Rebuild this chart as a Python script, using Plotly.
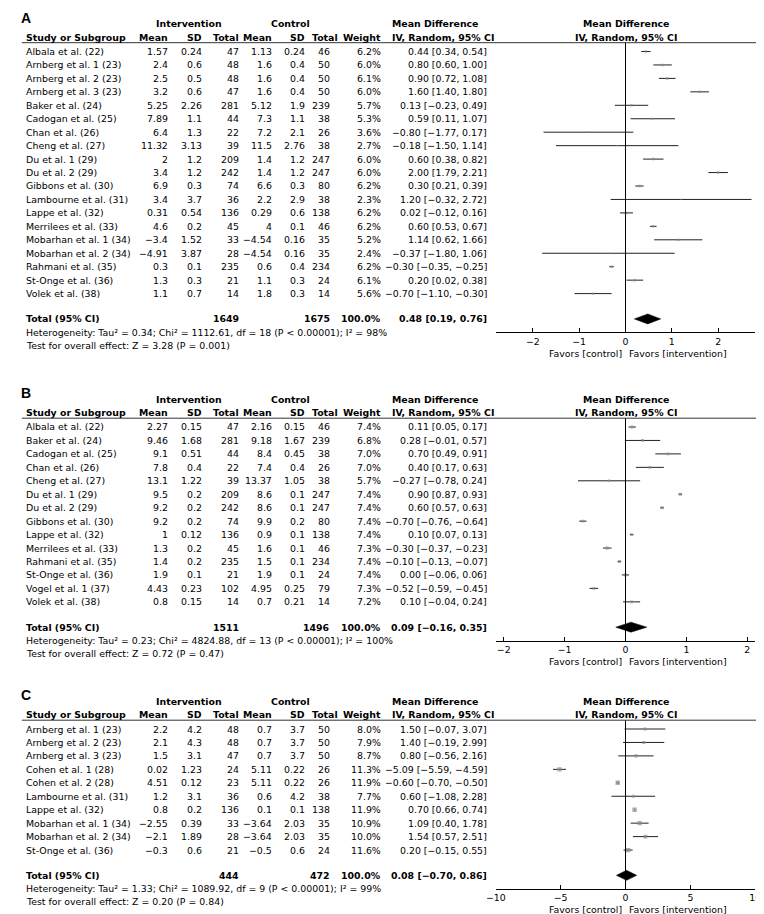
import plotly.graph_objects as go

W, H = 764, 914
FONT = "DejaVu Sans"
FS = 9.4
P = 13.45  # row pitch in px

# ---------------- Panel A data ----------------
A_studies = ["Albala et al. (22)", "Arnberg et al. 1 (23)", "Arnberg et al. 2 (23)", "Arnberg et al. 3 (23)",
             "Baker et al. (24)", "Cadogan et al. (25)", "Chan et al. (26)", "Cheng et al. (27)",
             "Du et al. 1 (29)", "Du et al. 2 (29)", "Gibbons et al. (30)", "Lambourne et al. (31)",
             "Lappe et al. (32)", "Merrilees et al. (33)", "Mobarhan et al. 1 (34)", "Mobarhan et al. 2 (34)",
             "Rahmani et al. (35)", "St-Onge et al. (36)", "Volek et al. (38)"]
A_int_mean = [1.57, 2.4, 2.5, 3.2, 5.25, 7.89, 6.4, 11.32, 2, 3.4, 6.9, 3.4, 0.31, 4.6, -3.4, -4.91, 0.3, 1.3, 1.1]
A_int_sd = [0.24, 0.6, 0.5, 0.6, 2.26, 1.1, 1.3, 3.13, 1.2, 1.2, 0.3, 3.7, 0.54, 0.2, 1.52, 3.87, 0.1, 0.3, 0.7]
A_int_n = [47, 48, 48, 47, 281, 44, 22, 39, 209, 242, 74, 36, 136, 45, 33, 28, 235, 21, 14]
A_ctl_mean = [1.13, 1.6, 1.6, 1.6, 5.12, 7.3, 7.2, 11.5, 1.4, 1.4, 6.6, 2.2, 0.29, 4, -4.54, -4.54, 0.6, 1.1, 1.8]
A_ctl_sd = [0.24, 0.4, 0.4, 0.4, 1.9, 1.1, 2.1, 2.76, 1.2, 1.2, 0.3, 2.9, 0.6, 0.1, 0.16, 0.16, 0.4, 0.3, 0.3]
A_ctl_n = [46, 50, 50, 50, 239, 38, 26, 38, 247, 247, 80, 38, 138, 46, 35, 35, 234, 24, 14]
A_weight = [6.2, 6.0, 6.1, 6.0, 5.7, 5.3, 3.6, 2.7, 6.0, 6.0, 6.2, 2.3, 6.2, 6.2, 5.2, 2.4, 6.2, 6.1, 5.6]
A_md = [0.44, 0.80, 0.90, 1.60, 0.13, 0.59, -0.80, -0.18, 0.60, 2.00, 0.30, 1.20, 0.02, 0.60, 1.14, -0.37, -0.30, 0.20, -0.70]
A_lo = [0.34, 0.60, 0.72, 1.40, -0.23, 0.11, -1.77, -1.50, 0.38, 1.79, 0.21, -0.32, -0.12, 0.53, 0.62, -1.80, -0.35, 0.02, -1.10]
A_hi = [0.54, 1.00, 1.08, 1.80, 0.49, 1.07, 0.17, 1.14, 0.82, 2.21, 0.39, 2.72, 0.16, 0.67, 1.66, 1.06, -0.25, 0.38, -0.30]
A_total_n = [1649, 1675]
A_total_md = [0.48, 0.19, 0.76]
A_het = [0.34, 1112.61, 18, 98]   # Tau2, Chi2, df, I2
A_test = [3.28, 0.001]            # Z, P

# ---------------- Panel B data ----------------
B_studies = ["Albala et al. (22)", "Baker et al. (24)", "Cadogan et al. (25)", "Chan et al. (26)",
             "Cheng et al. (27)", "Du et al. 1 (29)", "Du et al. 2 (29)", "Gibbons et al. (30)",
             "Lappe et al. (32)", "Merrilees et al. (33)", "Rahmani et al. (35)", "St-Onge et al. (36)",
             "Vogel et al. 1 (37)", "Volek et al. (38)"]
B_int_mean = [2.27, 9.46, 9.1, 7.8, 13.1, 9.5, 9.2, 9.2, 1, 1.3, 1.4, 1.9, 4.43, 0.8]
B_int_sd = [0.15, 1.68, 0.51, 0.4, 1.22, 0.2, 0.2, 0.2, 0.12, 0.2, 0.2, 0.1, 0.23, 0.15]
B_int_n = [47, 281, 44, 22, 39, 209, 242, 74, 136, 45, 235, 21, 102, 14]
B_ctl_mean = [2.16, 9.18, 8.4, 7.4, 13.37, 8.6, 8.6, 9.9, 0.9, 1.6, 1.5, 1.9, 4.95, 0.7]
B_ctl_sd = [0.15, 1.67, 0.45, 0.4, 1.05, 0.1, 0.1, 0.2, 0.1, 0.1, 0.1, 0.1, 0.25, 0.21]
B_ctl_n = [46, 239, 38, 26, 38, 247, 247, 80, 138, 46, 234, 24, 79, 14]
B_weight = [7.4, 6.8, 7.0, 7.0, 5.7, 7.4, 7.4, 7.4, 7.4, 7.3, 7.4, 7.4, 7.3, 7.2]
B_md = [0.11, 0.28, 0.70, 0.40, -0.27, 0.90, 0.60, -0.70, 0.10, -0.30, -0.10, 0.00, -0.52, 0.10]
B_lo = [0.05, -0.01, 0.49, 0.17, -0.78, 0.87, 0.57, -0.76, 0.07, -0.37, -0.13, -0.06, -0.59, -0.04]
B_hi = [0.17, 0.57, 0.91, 0.63, 0.24, 0.93, 0.63, -0.64, 0.13, -0.23, -0.07, 0.06, -0.45, 0.24]
B_total_n = [1511, 1496]
B_total_md = [0.09, -0.16, 0.35]
B_het = [0.23, 4824.88, 13, 100]
B_test = [0.72, 0.47]

# ---------------- Panel C data ----------------
C_studies = ["Arnberg et al. 1 (23)", "Arnberg et al. 2 (23)", "Arnberg et al. 3 (23)", "Cohen et al. 1 (28)",
             "Cohen et al. 2 (28)", "Lambourne et al. (31)", "Lappe et al. (32)", "Mobarhan et al. 1 (34)",
             "Mobarhan et al. 2 (34)", "St-Onge et al. (36)"]
C_int_mean = [2.2, 2.1, 1.5, 0.02, 4.51, 1.2, 0.8, -2.55, -2.1, -0.3]
C_int_sd = [4.2, 4.3, 3.1, 1.23, 0.12, 3.1, 0.2, 0.39, 1.89, 0.6]
C_int_n = [48, 48, 47, 24, 23, 36, 136, 33, 28, 21]
C_ctl_mean = [0.7, 0.7, 0.7, 5.11, 5.11, 0.6, 0.1, -3.64, -3.64, -0.5]
C_ctl_sd = [3.7, 3.7, 3.7, 0.22, 0.22, 4.2, 0.1, 2.03, 2.03, 0.6]
C_ctl_n = [50, 50, 50, 26, 26, 38, 138, 35, 35, 24]
C_weight = [8.0, 7.9, 8.7, 11.3, 11.9, 7.7, 11.9, 10.9, 10.0, 11.6]
C_md = [1.50, 1.40, 0.80, -5.09, -0.60, 0.60, 0.70, 1.09, 1.54, 0.20]
C_lo = [-0.07, -0.19, -0.56, -5.59, -0.70, -1.08, 0.66, 0.40, 0.57, -0.15]
C_hi = [3.07, 2.99, 2.16, -4.59, -0.50, 2.28, 0.74, 1.78, 2.51, 0.55]
C_total_n = [444, 472]
C_total_md = [0.08, -0.70, 0.86]
C_het = [1.33, 1089.92, 9, 99]
C_test = [0.20, 0.84]

A_ticks = [-2, -1, 0, 1, 2]
B_ticks = [-2, -1, 0, 1, 2]
C_ticks = [-10, -5, 0, 5, 10]

# ---------------- layout constants (pixels) ----------------
X_STUDY = 8
COLS = [153, 188, 226, 259, 293, 319]   # right edges of data: int mean, sd, total, ctl mean, sd, total
HEAD_COLS = [153, 188, 226, 259, 293, 327]
X_WEIGHT = 371
X_CI = 479
X_MDHEAD = 382
F_L, F_R = 488, 753
X_INT_C, X_CTL_C = 175, 278


def m(s):
    return s.replace("-", "\u2212")


def fnum(v):
    return m(f"{v:g}")


def fci(e, lo, hi):
    return m(f"{e:.2f} [{lo:.2f}, {hi:.2f}]")


panels = [
    dict(lab="A", st=A_studies, im=A_int_mean, isd=A_int_sd, inn=A_int_n, cm=A_ctl_mean, csd=A_ctl_sd,
         cn=A_ctl_n, w=A_weight, md=A_md, lo=A_lo, hi=A_hi, tn=A_total_n, tmd=A_total_md, het=A_het,
         test=A_test, ticks=A_ticks, first=43.5, xr=[-2.8, 2.8]),
    dict(lab="B", st=B_studies, im=B_int_mean, isd=B_int_sd, inn=B_int_n, cm=B_ctl_mean, csd=B_ctl_sd,
         cn=B_ctl_n, w=B_weight, md=B_md, lo=B_lo, hi=B_hi, tn=B_total_n, tmd=B_total_md, het=B_het,
         test=B_test, ticks=B_ticks, first=419.0, xr=[-2.13, 2.13]),
    dict(lab="C", st=C_studies, im=C_int_mean, isd=C_int_sd, inn=C_int_n, cm=C_ctl_mean, csd=C_ctl_sd,
         cn=C_ctl_n, w=C_weight, md=C_md, lo=C_lo, hi=C_hi, tn=C_total_n, tmd=C_total_md, het=C_het,
         test=C_test, ticks=C_ticks, first=721.0, xr=[-10, 10]),
]

fig = go.Figure()
annotations = []
shapes = []
layout = {}


def py(px):
    return 1 - px / H


def ann(text, x_px, y_px, xanchor="left", bold=False, size=FS, family=FONT):
    annotations.append(dict(text=f"<b>{text}</b>" if bold else text, x=x_px / W, y=py(y_px), xref="paper",
                            yref="paper", xanchor=xanchor, yanchor="middle", showarrow=False,
                            font=dict(family=family, size=size, color="black"),
                            borderpad=0, borderwidth=0))


for k, p in enumerate(panels, start=1):
    xa = "x" if k == 1 else f"x{k}"
    ya = "y" if k == 1 else f"y{k}"
    n = len(p["st"])
    first = p["first"]
    line_px = first - 8.8
    last_px = first + (n - 1) * P
    total_px = last_px + 25.3
    total_row = (total_px - first) / P
    axis_px = total_px + 13.5

    layout["xaxis" if k == 1 else f"xaxis{k}"] = dict(
        domain=[F_L / W, F_R / W], range=p["xr"], anchor=ya, tickvals=p["ticks"],
        showline=True, linecolor="black", linewidth=1, ticks="inside", ticklen=4, tickcolor="black",
        tickwidth=1, showgrid=False, zeroline=False, fixedrange=True,
        tickfont=dict(family=FONT, size=FS, color="black"))
    layout["yaxis" if k == 1 else f"yaxis{k}"] = dict(
        domain=[py(axis_px), py(line_px)],
        range=[(axis_px - first) / P, (line_px - first) / P], anchor=xa, visible=False, fixedrange=True)

    rows = list(range(n))
    # CI lines
    cx, cy = [], []
    for i in rows:
        cx += [p["lo"][i], p["hi"][i], None]
        cy += [i, i, None]
    fig.add_trace(go.Scatter(x=cx, y=cy, mode="lines", line=dict(color="#222222", width=1),
                             xaxis=xa, yaxis=ya, hoverinfo="skip", showlegend=False))
    # squares sized by weight
    fig.add_trace(go.Scatter(x=p["md"], y=rows, mode="markers",
                             marker=dict(symbol="square", color="#8a8a8a",
                                         size=[0.5 + wv * 0.33 for wv in p["w"]], line=dict(width=0)),
                             xaxis=xa, yaxis=ya, hoverinfo="skip", showlegend=False))
    # pooled diamond
    e, lo, hi = p["tmd"]
    h = 5.0 / P
    fig.add_trace(go.Scatter(x=[lo, e, hi, e, lo],
                             y=[total_row, total_row - h, total_row, total_row + h, total_row],
                             mode="lines", fill="toself", fillcolor="black", line=dict(color="black", width=0.5),
                             xaxis=xa, yaxis=ya, hoverinfo="skip", showlegend=False))

    # zero line
    shapes.append(dict(type="line", xref=xa, x0=0, x1=0, yref=f"{ya} domain", y0=0, y1=1,
                       line=dict(color="black", width=1)))
    # header rule
    shapes.append(dict(type="line", xref="paper", x0=4 / W, x1=760 / W, yref="paper",
                       y0=py(line_px), y1=py(line_px), line=dict(color="#333333", width=1)))

    # panel label
    ann(p["lab"], 3, line_px - 25, bold=True, size=14, family="Liberation Sans")
    gh = line_px - 19
    ch = line_px - 5.5
    ann("Intervention", X_INT_C, gh, xanchor="center", bold=True)
    ann("Control", X_CTL_C, gh, xanchor="center", bold=True)
    ann("Mean Difference", X_MDHEAD, gh, bold=True)
    ann("Mean Difference", (F_L + F_R) / 2, gh, xanchor="center", bold=True)
    ann("Study or Subgroup", X_STUDY, ch, bold=True)
    for txt, xr_ in zip(["Mean", "SD", "Total", "Mean", "SD", "Total"], HEAD_COLS):
        ann(txt, xr_, ch, xanchor="right", bold=True)
    ann("Weight", X_WEIGHT, ch, xanchor="right", bold=True)
    ann("IV, Random, 95% CI", X_MDHEAD, ch, bold=True)
    ann("IV, Random, 95% CI", (F_L + F_R) / 2, ch, xanchor="center", bold=True)

    # study rows
    for i in rows:
        ypx = first + i * P
        ann(p["st"][i], X_STUDY, ypx)
        vals = [fnum(p["im"][i]), fnum(p["isd"][i]), str(p["inn"][i]),
                fnum(p["cm"][i]), fnum(p["csd"][i]), str(p["cn"][i])]
        for v, xr_ in zip(vals, COLS):
            ann(v, xr_, ypx, xanchor="right")
        ann(f"{p['w'][i]:.1f}%", X_WEIGHT, ypx, xanchor="right")
        ann(fci(p["md"][i], p["lo"][i], p["hi"][i]), X_CI, ypx, xanchor="right")

    # total row
    ann("Total (95% CI)", X_STUDY, total_px, bold=True)
    ann(str(p["tn"][0]), COLS[2], total_px, xanchor="right", bold=True)
    ann(str(p["tn"][1]), COLS[5], total_px, xanchor="right", bold=True)
    ann("100.0%", X_WEIGHT, total_px, xanchor="right", bold=True)
    ann(fci(*p["tmd"]), X_CI, total_px, xanchor="right", bold=True)

    t2, c2, df, i2 = p["het"]
    ann(f"Heterogeneity: Tau\u00b2 = {t2:.2f}; Chi\u00b2 = {c2:.2f}, df = {df} (P &lt; 0.00001); I\u00b2 = {i2}%",
        X_STUDY, total_px + 13.5)
    z, pv = p["test"]
    ann(f"Test for overall effect: Z = {z:.2f} (P = {pv:g})", X_STUDY, total_px + 26.5)

    # favours labels under the axis
    zx = F_L + (0 - p["xr"][0]) / (p["xr"][1] - p["xr"][0]) * (F_R - F_L)
    ann("Favors [control]", zx - 4, axis_px + 21, xanchor="right")
    ann("Favors [intervention]", zx + 4, axis_px + 21, xanchor="left")

fig.update_layout(width=W, height=H, margin=dict(l=0, r=0, t=0, b=0), paper_bgcolor="white",
                  plot_bgcolor="rgba(0,0,0,0)", showlegend=False, annotations=annotations, shapes=shapes,
                  font=dict(family=FONT, size=FS, color="black"), **layout)

fig.write_html("out.html")
